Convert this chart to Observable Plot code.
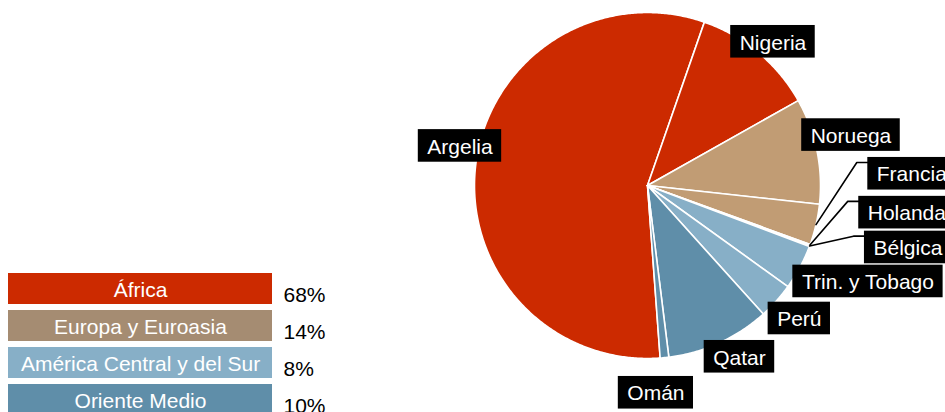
<!DOCTYPE html>
<html>
<head>
<meta charset="utf-8">
<script src="https://cdn.jsdelivr.net/npm/d3@7"></script>
<script src="https://cdn.jsdelivr.net/npm/@observablehq/plot@0.6"></script>
<style>
  html, body { margin: 0; padding: 0; background: #fff; overflow: hidden; }
  #wrap { position: relative; width: 945px; height: 412px; overflow: hidden; }
  #pie { position: absolute; left: 0; top: 0; }
  #legend { position: absolute; left: 0; top: 262px; }
</style>
</head>
<body>
<div id="wrap"><div id="pie"></div><div id="legend"></div></div>
<script>
// ---------- DATA ----------
const countries = ["Argelia", "Nigeria", "Noruega", "Francia", "Holanda", "Bélgica", "Trin. y Tobago", "Perú", "Qatar", "Omán"];
const shares = [56.5, 11.5, 9.9, 3.8, 0.1, 0.1, 4.2, 3.4, 9.7, 0.8];
const countryRegion = ["África", "África", "Europa y Euroasia", "Europa y Euroasia", "Europa y Euroasia", "Europa y Euroasia",
  "América Central y del Sur", "América Central y del Sur", "Oriente Medio", "Oriente Medio"];
const regions = ["África", "Europa y Euroasia", "América Central y del Sur", "Oriente Medio"];
const regionShares = [68, 14, 8, 10];

// ---------- STYLE ----------
const sliceColor = {
  "África": "#cc2a00",
  "Europa y Euroasia": "#c19c74",
  "América Central y del Sur": "#87afc7",
  "Oriente Medio": "#5f8ea9"
};
const legendColor = {
  "África": "#cc2a00",
  "Europa y Euroasia": "#a58c72",
  "América Central y del Sur": "#87afc7",
  "Oriente Medio": "#5f8ea9"
};
const FONT = "'Liberation Sans', Arial, Helvetica, sans-serif";
const FS = 21;

// ---------- LAYOUT ----------
const W = 945, H = 412, CX = 647, CY = 185, R = 173;
const startDeg = 175.8;
// pixel nudges of each label box centre from its slice's outer mid-point
const labelNudge = [[-16, -17], [14.5, -11], [34, -15.7], [95.8, -50.9], [96.9, -32.3], [98.3, 1.5], [68, 14.2], [23, 17.5], [20.1, 13.9], [-8.6, 35.1]];
const hasLeader = [false, false, false, true, true, true, false, false, false, false];
const padX = 9, boxH = 32.6;

// ---------- BUILD ----------
const rows = countries.map((name, i) => ({name, share: shares[i], region: countryRegion[i]}));
const a0 = startDeg * Math.PI / 180;
const arcs = d3.pie().sort(null).value(d => d.share).startAngle(a0).endAngle(a0 + 2 * Math.PI)(rows);

const slicePts = [];
for (const a of arcs) {
  const color = sliceColor[a.data.region];
  const name = a.data.name;
  const n = Math.max(2, Math.ceil((a.endAngle - a.startAngle) / (Math.PI / 360)));
  slicePts.push({name, x: 0, y: 0, color});
  for (let k = 0; k <= n; k++) {
    const t = a.startAngle + (a.endAngle - a.startAngle) * k / n;
    slicePts.push({name, x: Math.sin(t), y: Math.cos(t), color});
  }
  slicePts.push({name, x: 0, y: 0, color});
}

const ctx = document.createElement("canvas").getContext("2d");
ctx.font = `${FS}px ${FONT}`;
const labels = arcs.map((a, i) => {
  const m = (a.startAngle + a.endAngle) / 2;
  const px = Math.sin(m), py = Math.cos(m);
  const cx = px + labelNudge[i][0] / R;
  const cy = py - labelNudge[i][1] / R;
  const w = ctx.measureText(a.data.name).width + 2 * padX;
  return {name: a.data.name, px, py, cx, cy, x1: cx - w / 2 / R, x2: cx + w / 2 / R, y1: cy - boxH / 2 / R, y2: cy + boxH / 2 / R, leader: hasLeader[i]};
});
const leaders = [];
labels.filter(d => d.leader).forEach(d => {
  leaders.push({name: d.name, x: d.px, y: d.py});
  leaders.push({name: d.name, x: d.x1 - 11 / R, y: d.y2 - 5 / R});
  leaders.push({name: d.name, x: d.x1, y: d.y2 - 5 / R});
});

const pie = Plot.plot({
  width: W, height: H, margin: 0,
  style: {fontFamily: FONT, fontSize: FS + "px", background: "transparent"},
  x: {domain: [-CX / R, (W - CX) / R], axis: null},
  y: {domain: [-(H - CY) / R, CY / R], axis: null},
  color: {type: "identity"},
  marks: [
    Plot.line(slicePts, {x: "x", y: "y", z: "name", fill: "color", stroke: "white", strokeWidth: 1.6, curve: "linear"}),
    Plot.line(leaders, {x: "x", y: "y", z: "name", stroke: "black", strokeWidth: 1.6}),
    Plot.rect(labels, {x1: "x1", x2: "x2", y1: "y1", y2: "y2", fill: "black", clip: true}),
    Plot.text(labels, {x: "cx", y: "cy", text: "name", fill: "white", fontSize: FS, dy: 1, clip: true})
  ]
});
document.getElementById("pie").appendChild(pie);

const legRows = regions.map((name, i) => ({name, pct: regionShares[i], color: legendColor[name]}));
const legend = Plot.plot({
  width: 340, height: 153, marginTop: 11, marginBottom: 0, marginLeft: 8, marginRight: 68,
  style: {fontFamily: FONT, fontSize: FS + "px", background: "transparent", overflow: "visible"},
  x: {domain: [0, 1], axis: null},
  y: {domain: regions, axis: null, paddingInner: 6 / 37, paddingOuter: 0},
  color: {type: "identity"},
  marks: [
    Plot.barX(legRows, {x1: 0, x2: 1, y: "name", fill: "color"}),
    Plot.text(legRows, {y: "name", text: "name", fill: "white", fontSize: FS, dy: 1}),
    Plot.text(legRows, {y: "name", text: d => d.pct + "%", frameAnchor: "right", textAnchor: "start", dx: 11, dy: 6, fill: "black", fontSize: FS})
  ]
});
document.getElementById("legend").appendChild(legend);
</script>
</body>
</html>
